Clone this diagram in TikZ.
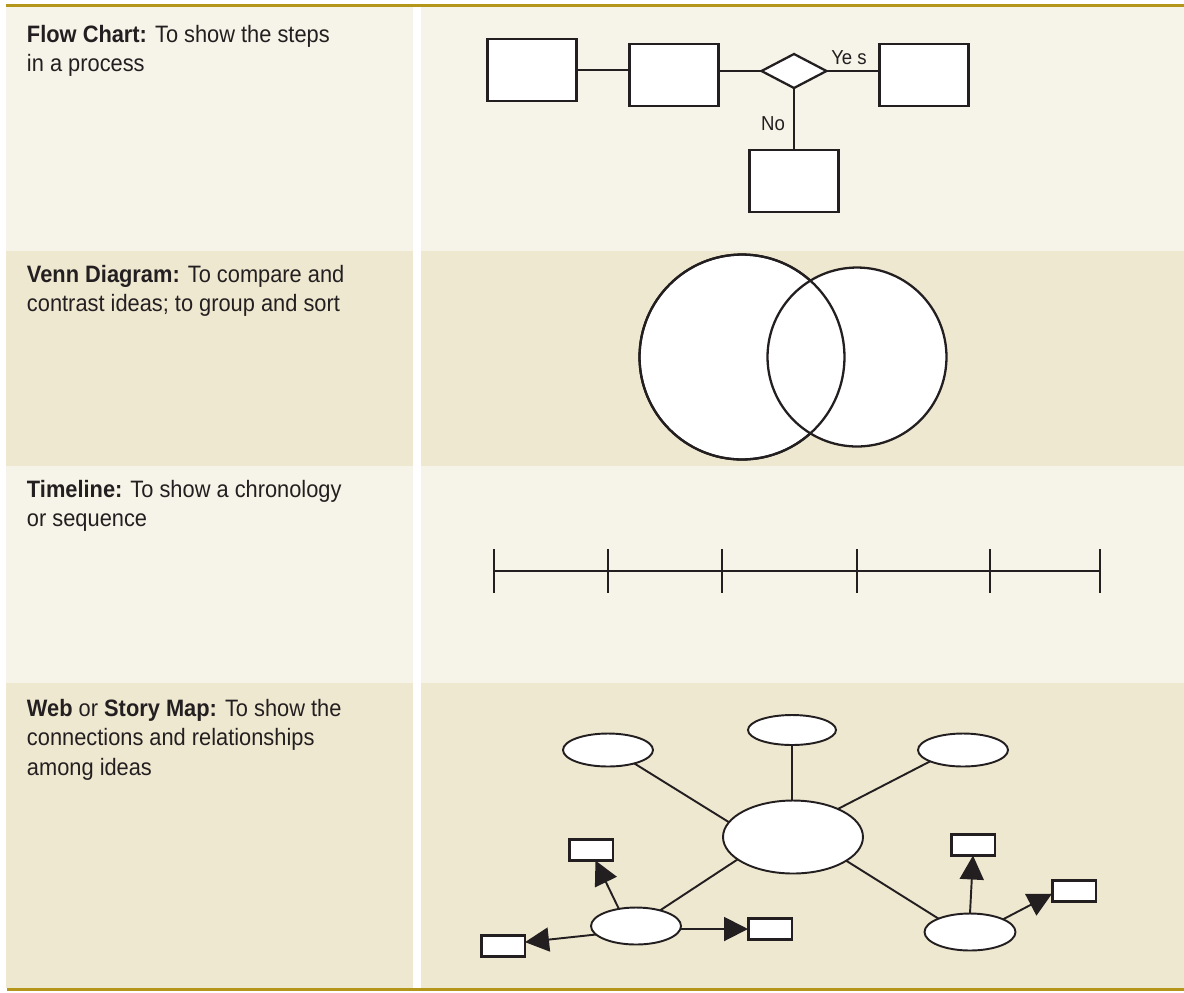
\documentclass[tikz,border=0pt]{standalone}
\usepackage{fontspec}
\setmainfont{Liberation Sans}[FakeStretch=0.92]
\usetikzlibrary{arrows.meta,shapes.geometric}

\definecolor{rowlight}{RGB}{246,243,232}
\definecolor{rowdark}{RGB}{239,232,209}
\definecolor{rulegold}{RGB}{179,150,26}
\definecolor{ink}{RGB}{35,31,32}

\begin{document}
\begin{tikzpicture}[x=0.02cm,y=-0.02cm,>={Triangle[length=0.48cm,width=0.48cm]},
  every node/.style={inner sep=0pt,outer sep=0pt},
  rowtext/.style={anchor=base west,text=ink,font=\fontsize{13.5}{17}\selectfont},
  flabel/.style={text=ink,font=\fontsize{11.5}{13}\selectfont},
  flowbox/.style={draw=ink,fill=white,line width=1.6pt,minimum width=1.78cm,minimum height=1.24cm},
  decision/.style={diamond,draw=ink,fill=white,line width=1.3pt,minimum width=1.3cm,minimum height=0.68cm},
  vennset/.style={circle,draw=ink,line width=1.3pt},
  blob/.style={ellipse,draw=ink,fill=white,line width=1.1pt},
  tag/.style={draw=ink,fill=white,line width=1.7pt,minimum width=0.88cm,minimum height=0.42cm},
  link/.style={draw=ink,line width=1.1pt},
  pointer/.style={link,->}]

  \useasboundingbox (0,0) rectangle (1184,992);
  \fill[white] (0,0) rectangle (1184,992);

  % rows
  \fill[rowlight] (6,4) rectangle (413,251);
  \fill[rowlight] (421,4) rectangle (1184,251);
  \fill[rowdark]  (6,251) rectangle (413,466);
  \fill[rowdark]  (421,251) rectangle (1184,466);
  \fill[rowlight] (6,466) rectangle (413,683);
  \fill[rowlight] (421,466) rectangle (1184,683);
  \fill[rowdark]  (6,683) rectangle (413,988);
  \fill[rowdark]  (421,683) rectangle (1184,988);
  \fill[rulegold] (6,4) rectangle (1184,7);
  \fill[rulegold] (7,988) rectangle (1184,991);

  % left column
  \node[rowtext] (flowtxt) at (27,42) {\begin{tabular}[t]{@{}l@{}}\textbf{Flow Chart:} To show the steps\\in a process\end{tabular}};
  \node[rowtext] (venntxt) at (27,282) {\begin{tabular}[t]{@{}l@{}}\textbf{Venn Diagram:} To compare and\\contrast ideas; to group and sort\end{tabular}};
  \node[rowtext] (timetxt) at (27,497) {\begin{tabular}[t]{@{}l@{}}\textbf{Timeline:} To show a chronology\\or sequence\end{tabular}};
  \node[rowtext] (webtxt) at (27,716) {\begin{tabular}[t]{@{}l@{}}\textbf{Web} or \textbf{Story Map:} To show the\\connections and relationships\\among ideas\end{tabular}};

  % flow chart
  \node[flowbox]  (step1) at (532,70)  {};
  \node[flowbox]  (step2) at (674,75)  {};
  \node[decision] (check) at (794,71)  {};
  \node[flowbox]  (yesbox) at (924,75) {};
  \node[flowbox]  (nobox) at (794,181) {};
  \node[flabel] (yes) at (849,58) {Ye s};
  \node[flabel] (no)  at (773,124) {No};
  \path[link] (step1.east) -- (step1.east -| step2.west)
              (step2.east |- check.west) -- (check.west)
              (check.east) -- (check.east -| yesbox.west)
              (check.south) -- (nobox.north);

  % venn
  \node[vennset,fill=white,minimum size=4.1cm] (setA) at (742,357) {};
  \node[vennset,fill=white,minimum size=3.58cm] (setB) at (857,357) {};
  \node[vennset,minimum size=4.1cm] at (setA) {};

  % timeline
  \draw[ink,line width=1.2pt] (494,571) -- (1100,571);
  \foreach \t in {494,608,722,857,990,1100}
    \draw[ink,line width=1.2pt] (\t,549) -- (\t,593);

  % web
  \node[blob,minimum width=2.8cm,minimum height=1.46cm] (hub) at (793,837) {};
  \node[blob,minimum width=1.76cm,minimum height=0.6cm] (top) at (792,730) {};
  \node[blob,minimum width=1.8cm,minimum height=0.66cm] (tl) at (608,750) {};
  \node[blob,minimum width=1.8cm,minimum height=0.66cm] (tr) at (963,750) {};
  \node[blob,minimum width=1.8cm,minimum height=0.74cm] (bl) at (636,926) {};
  \node[blob,minimum width=1.82cm,minimum height=0.74cm] (br) at (970,932) {};
  \node[tag] (blt) at (591,850) {};
  \node[tag] (blw) at (503,946) {};
  \node[tag] (ble) at (770,929) {};
  \node[tag] (brt) at (973,845) {};
  \node[tag] (bre) at (1074,891) {};

  \path[link] (top.south) -- (top.south |- hub.north)
              (tl.-27) -- (hub.167)
              (tr.199) -- (hub.32)
              (bl.33) -- (hub.202)
              (br.157) -- (hub.-24);
  \draw[pointer] (bl.135) -- (blt.293);
  \draw[pointer] (bl.192) -- (blw.10);
  \draw[pointer] (bl.east |- ble.west) -- (ble.west);
  \draw[pointer] (br.north) -- (brt.south);
  \draw[pointer] (br.21) -- (bre.187);

\end{tikzpicture}
\end{document}
